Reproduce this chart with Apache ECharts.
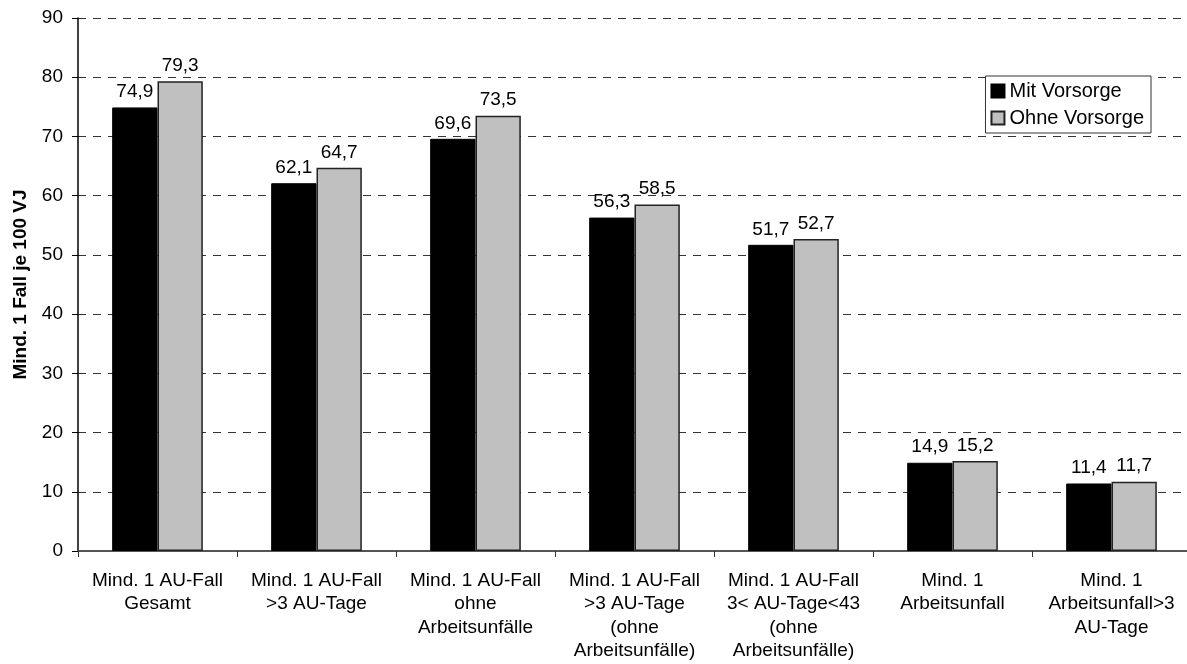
<!DOCTYPE html>
<html>
<head>
<meta charset="utf-8">
<script src="https://cdn.jsdelivr.net/npm/echarts@6/dist/echarts.min.js"></script>
<style>
  html, body { margin: 0; padding: 0; background: #fff; }
  #chart { width: 1187px; height: 664px; }
</style>
</head>
<body>
<div id="chart"></div>
<script>
// Kategorien (Fallarten)
const categories = [
  'Mind. 1 AU-Fall\nGesamt',
  'Mind. 1 AU-Fall\n>3 AU-Tage',
  'Mind. 1 AU-Fall\nohne\nArbeitsunfälle',
  'Mind. 1 AU-Fall\n>3 AU-Tage\n(ohne\nArbeitsunfälle)',
  'Mind. 1 AU-Fall\n3< AU-Tage<43\n(ohne\nArbeitsunfälle)',
  'Mind. 1\nArbeitsunfall',
  'Mind. 1\nArbeitsunfall>3\nAU-Tage'
];

// Fälle je 100 Versicherungsjahre
const mitVorsorge = [74.9, 62.1, 69.6, 56.3, 51.7, 14.9, 11.4];
const ohneVorsorge = [79.3, 64.7, 73.5, 58.5, 52.7, 15.2, 11.7];

const seriesNames = ['Mit Vorsorge', 'Ohne Vorsorge'];
const yTicks = { min: 0, max: 90, interval: 10 };
const yAxisTitle = 'Mind. 1 Fall je 100 VJ';

const font = 'Liberation Sans, Arial, sans-serif';
const fs = 19;
const fmt = p => p.value.toFixed(1).replace('.', ',');

const chart = echarts.init(document.getElementById('chart'), null, { renderer: 'canvas' });

chart.setOption({
  animation: false,
  textStyle: { fontFamily: font },
  grid: {
    left: 78, right: -4, top: 18, bottom: 113,
    containLabel: false,
    outerBoundsMode: 'none'
  },
  legend: {
    orient: 'vertical',
    right: 36,
    top: 76,
    itemWidth: 13,
    itemHeight: 13,
    itemGap: 7,
    padding: [5, 7, 5, 5],
    borderColor: '#333',
    borderWidth: 1,
    backgroundColor: '#fff',
    textStyle: { fontFamily: font, fontSize: 20, color: '#000' },
    data: seriesNames.map(n => ({ name: n, icon: 'rect' }))
  },
  xAxis: {
    type: 'category',
    data: categories,
    boundaryGap: true,
    axisLine: { lineStyle: { color: '#555', width: 2 } },
    axisTick: { show: true, alignWithLabel: false, length: 6, lineStyle: { color: '#333' } },
    axisLabel: {
      interval: 0,
      margin: 18,
      fontFamily: font,
      fontSize: fs,
      color: '#000',
      lineHeight: 23.5,
      align: 'center'
    }
  },
  yAxis: {
    type: 'value',
    min: yTicks.min,
    max: yTicks.max,
    interval: yTicks.interval,
    name: yAxisTitle,
    nameLocation: 'middle',
    nameGap: 48,
    nameRotate: 90,
    nameTextStyle: { fontFamily: font, fontSize: 19, fontWeight: 'bold', color: '#000' },
    axisLine: { show: true, lineStyle: { color: '#000', width: 1.5 } },
    axisTick: { show: true, length: 6, lineStyle: { color: '#000' } },
    axisLabel: { fontFamily: font, fontSize: fs, color: '#000', margin: 15 },
    splitLine: { show: true, lineStyle: { color: '#333', type: [8, 7], width: 1 } }
  },
  series: [
    {
      name: seriesNames[0],
      type: 'bar',
      data: mitVorsorge,
      barGap: '0%',
      barCategoryGap: '43%',
      itemStyle: { color: '#000', borderColor: '#000', borderWidth: 1 },
      label: {
        show: true, position: 'top', distance: 6,
        fontFamily: font, fontSize: fs, color: '#000', formatter: fmt
      }
    },
    {
      name: seriesNames[1],
      type: 'bar',
      data: ohneVorsorge,
      barGap: '0%',
      barCategoryGap: '43%',
      itemStyle: { color: '#c0c0c0', borderColor: '#222', borderWidth: 1.5 },
      label: {
        show: true, position: 'top', distance: 6,
        fontFamily: font, fontSize: fs, color: '#000', formatter: fmt
      }
    }
  ]
});
</script>
</body>
</html>
